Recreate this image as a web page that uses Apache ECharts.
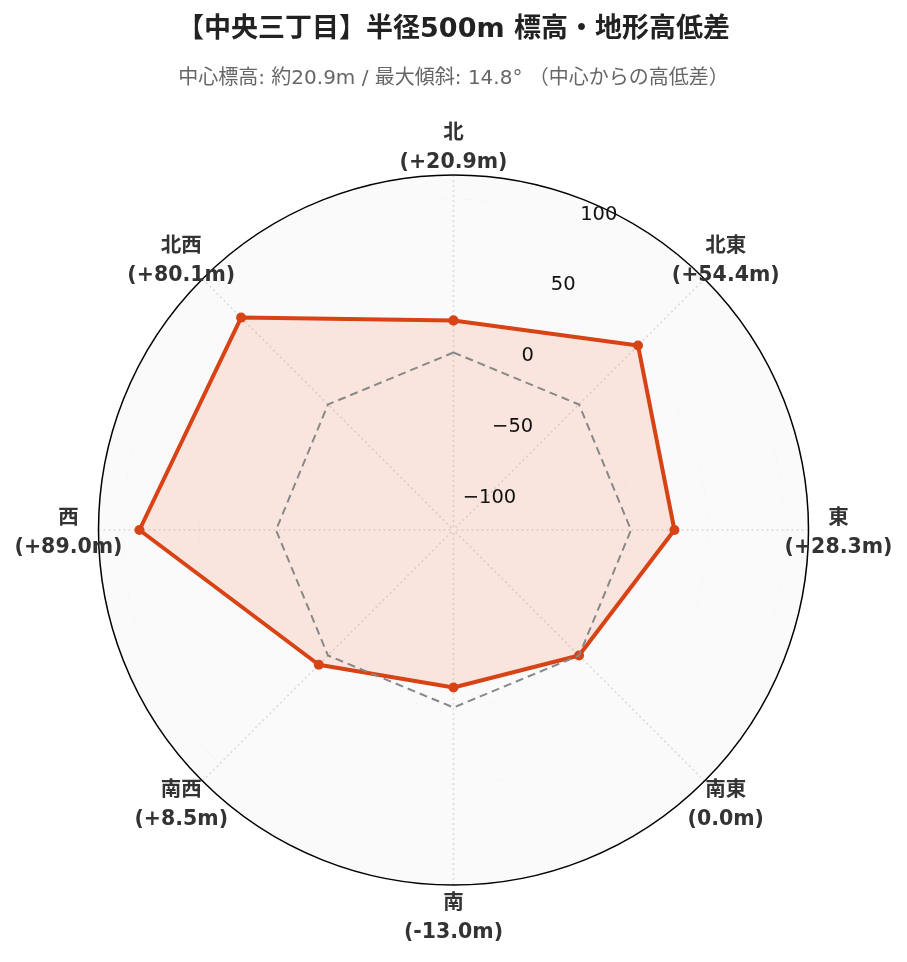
<!DOCTYPE html>
<html><head><meta charset="utf-8">
<script src="https://cdn.jsdelivr.net/npm/echarts@6/dist/echarts.min.js"></script>
<style>html,body{margin:0;padding:0;background:#fff}#c{width:907px;height:962px}</style>
</head><body><div id="c"></div>
<script>
// ---- data ----
const directions = ['北', '北東', '東', '南東', '南', '南西', '西', '北西'];
const angles = [0, 45, 90, 135, 180, 225, 270, 315];
const elevationDiff = [20.9, 54.4, 28.3, 0.0, -13.0, 8.5, 89.0, 80.1];
const zeroLine = [0, 0, 0, 0, 0, 0, 0, 0];
const radialTicks = [-100, -50, 0, 50, 100];
const titleText = '【中央三丁目】半径500m 標高・地形高低差';
const subtitleText = '中心標高: 約20.9m / 最大傾斜: 14.8° （中心からの高低差）';

// ---- scale ----
const rMax = Math.round(Math.max(...elevationDiff.map(Math.abs)) * 1.3 * 10) / 10; // 115.7
const rMin = -rMax;
const LABEL_R = rMin + (rMax - rMin) * 385 / 355; // label ring just outside plot

const FONT = '"DejaVu Sans", "Noto Sans CJK JP", sans-serif';
const center = ['50%', 530];
const radius = 355;

function closed(vals) {
  const d = angles.map((a, i) => [vals[i], a]);
  d.push([vals[0], 360]);
  return d;
}
function fmtDiff(v) {
  return '(' + (v > 0 ? '+' : '') + v.toFixed(1) + 'm)';
}

const chart = echarts.init(document.getElementById('c'), null, {renderer: 'canvas'});
chart.setOption({
  backgroundColor: '#fff',
  animation: false,
  title: {
    text: titleText,
    subtext: subtitleText,
    left: 'center',
    top: 16,
    padding: 0,
    itemGap: 26,
    textStyle: {fontFamily: FONT, fontSize: 27, fontWeight: 'bold', color: '#222'},
    subtextStyle: {fontFamily: FONT, fontSize: 20, color: '#666'}
  },
  polar: [
    {center: center, radius: radius},
    {center: center, radius: radius}
  ],
  angleAxis: [
    {
      polarIndex: 0, type: 'value', min: 0, max: 360, interval: 45,
      startAngle: 90, clockwise: true,
      axisLine: {show: true, lineStyle: {color: '#000', width: 1.5}},
      axisTick: {show: false}, axisLabel: {show: false},
      splitLine: {show: true, lineStyle: {color: '#d9d9d9', type: [2, 3], width: 1.5}}
    },
    {
      polarIndex: 1, type: 'value', min: 0, max: 360, startAngle: 67.5, show: false
    }
  ],
  radiusAxis: [
    {
      polarIndex: 0, type: 'value', min: rMin, max: rMax,
      axisLine: {show: false}, axisTick: {show: false}, axisLabel: {show: false},
      splitLine: {show: true, lineStyle: {
        color: ['rgba(0,0,0,0)', '#d9d9d9', '#d9d9d9', '#d9d9d9', '#d9d9d9', '#d9d9d9', 'rgba(0,0,0,0)'],
        type: [2, 3], width: 1.5}},
      splitArea: {show: true, areaStyle: {color: ['#fafafa', '#fafafa']}}
    },
    {
      polarIndex: 1, type: 'value', min: rMin, max: rMax, z: 10,
      axisLine: {show: false}, axisTick: {show: false}, splitLine: {show: false},
      axisLabel: {
        show: true, margin: 0, align: 'left', verticalAlign: 'bottom',
        fontFamily: FONT, fontSize: 19.5, color: '#111',
        hideOverlap: false,
        formatter: function (v) {
          const r = Math.round(v);
          if (Math.abs(v - r) > 1e-6 || radialTicks.indexOf(r) < 0) return '';
          return r < 0 ? '\u2212' + Math.abs(r) : String(r);
        }
      }
    }
  ],
  series: [
    {
      name: '高低差', type: 'line', coordinateSystem: 'polar', polarIndex: 0,
      data: closed(elevationDiff), symbol: 'circle', symbolSize: 10,
      lineStyle: {color: '#d84315', width: 4},
      itemStyle: {color: '#d84315'},
      areaStyle: {color: 'rgba(255,87,34,0.18)', origin: 'start'},
      z: 3
    },
    {
      name: 'zero', type: 'line', coordinateSystem: 'polar', polarIndex: 0,
      data: closed(zeroLine), symbol: 'none', silent: true,
      lineStyle: {color: '#888', width: 2, type: [8, 5]}, z: 4
    },
    {
      name: 'labels', type: 'scatter', coordinateSystem: 'polar', polarIndex: 0,
      clip: false, silent: true,
      data: angles.map((a, i) => ({value: [LABEL_R, a], name: directions[i]})),
      symbolSize: 0, itemStyle: {color: '#fff', opacity: 1},
      label: {
        show: true, position: 'inside', offset: [0, 3], opacity: 1,
        color: '#333', textBorderWidth: 0,
        formatter: function (p) {
          return '{a|' + directions[p.dataIndex] + '}\n{a|' + fmtDiff(elevationDiff[p.dataIndex]) + '}';
        },
        rich: {a: {fontFamily: FONT, fontSize: 20.5, fontWeight: 'bold', color: '#333',
          textBorderWidth: 0, lineHeight: 29, align: 'center'}}
      },
      z: 5
    }
  ]
});
</script></body></html>
